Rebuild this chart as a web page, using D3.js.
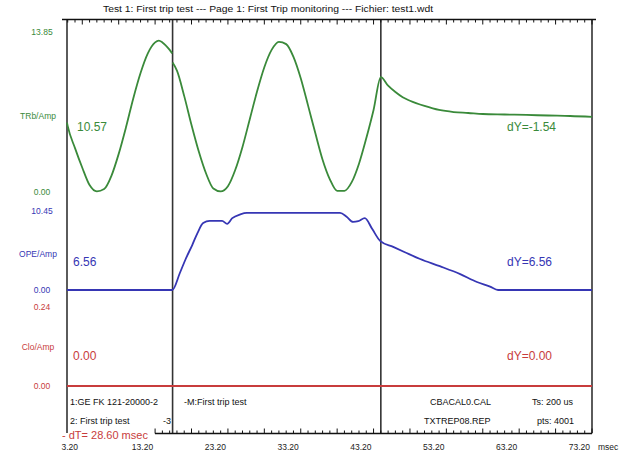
<!DOCTYPE html>
<html><head><meta charset="utf-8">
<script src="https://cdn.jsdelivr.net/npm/d3@7"></script>
<style>body{margin:0;background:#fff}svg{display:block}text{font-family:"Liberation Sans",Arial,sans-serif}</style>
</head><body>
<svg id="c" width="634" height="453"></svg>
<script>
// ---- data ----
const timeDomain = [2.9, 75.0];
const tickLabels = [3.2, 13.2, 23.2, 33.2, 43.2, 53.2, 63.2, 73.2];
const cursorTimes = [17.4, 46.0];
const channelNames = ["TRb/Amp", "OPE/Amp", "Clo/Amp"];
const channelMax = [13.85, 10.45, 0.24];
const cursorValues = ["10.57", "6.56", "0.00"];
const deltaValues = ["dY=-1.54", "dY=6.56", "dY=0.00"];
// TRb channel (null = jump at cursor 1)
const trbTimes = [2.9,3,4,5,6,7,8,9,10,11,12,13,14,15,15.5,16,17,17.35,null,
  17.4,18,19,20,21,22,23,24,25,26,27,28,29,30,31,32,33,34,35,36,37,38,39,40,41,42,43,44,45,46,
  47,48,49,50,52,54,56,58,60,63,66,69,72,75];
const trbValues = [6.0,5.7,3.8,2.1,0.6,0.05,0.25,1.4,3.3,5.6,8.1,10.3,12.0,12.95,13.1,12.95,12.3,12.0,null,
  11.2,10.5,8.3,5.8,3.5,1.6,0.3,0.05,0.5,1.9,3.9,6.3,8.7,10.8,12.3,13.0,12.8,11.7,9.85,7.5,5.1,2.8,1.1,0.1,0.1,0.85,2.45,4.65,7.1,9.95,
  9.2,8.65,8.2,7.9,7.45,7.1,6.92,6.84,6.75,6.71,6.67,6.62,6.58,6.5];
// OPE channel
const opeTimes = [2.9,17.35,18.4,19.2,20.1,20.8,21.6,22.5,24.2,24.9,25.6,26.7,27.6,40.4,41.3,42.2,42.9,43.8,44.8,45.9,47.7,49.3,51.4,54.1,56.9,59.2,61.0,62.1,75];
const opeValues = [0,0,2.25,4.1,5.95,7.5,8.85,9.15,9.15,8.75,9.5,10.0,10.19,10.19,9.7,9.0,9.1,9.5,8.1,6.5,5.7,5.0,4.1,3.15,2.1,1.06,0.45,0,0];
// Clo channel
const cloTimes = [2.9, 75];
const cloValues = [0, 0];
const infoRow1 = ["1:GE FK 121-20000-2", "-M:First trip test", "CBACAL0.CAL", "Ts: 200 us"];
const infoRow2 = ["2: First trip test", "-3", "TXTREP08.REP", "pts: 4001"];
const titleText = "Test 1: First trip test --- Page 1: First Trip monitoring --- Fichier: test1.wdt";
const deltaT = "dT= 28.60 msec";

// ---- layout ----
const svg = d3.select("#c");
const left = 67, right = 592;
const x = d3.scaleLinear().domain(timeDomain).range([left, right]);
const colors = ["#3a8a3a", "#3636b4", "#c83c3c"];
const panels = [[192, 32], [290, 211], [386, 307]];
const ys = panels.map((r, i) => d3.scaleLinear().domain([0, channelMax[i]]).range(r));
const series = [[trbTimes, trbValues], [opeTimes, opeValues], [cloTimes, cloValues]];
const nameY = [116, 254, 347];
const valueY = [127, 262, 356];

// title
svg.append("text").attr("x", 268).attr("y", 12).attr("text-anchor", "middle")
  .attr("font-size", 8.5).attr("fill", "#111").attr("textLength", 330).attr("lengthAdjust", "spacingAndGlyphs").text(titleText);

// tick labels
const lab = svg.append("g").attr("transform", "translate(0,441)")
  .call(d3.axisBottom(x).tickValues(tickLabels).tickSize(0).tickFormat(d3.format(".2f")));
lab.select(".domain").remove();
lab.selectAll("text").attr("font-size", 8.5).attr("fill", "#222").attr("dy", "0.71em")
  .attr("font-family", "Liberation Sans, Arial, sans-serif");
svg.append("text").attr("x", 598).attr("y", 450).attr("font-size", 8.5).attr("fill", "#222").text("msec");

// vertical frame + cursors
[left, right].forEach(px => svg.append("line").attr("x1", px).attr("x2", px).attr("y1", 20).attr("y2", 433)
  .attr("stroke", "#333").attr("stroke-width", 1.6));
cursorTimes.forEach(t => svg.append("line").attr("x1", x(t)).attr("x2", x(t)).attr("y1", 20).attr("y2", 433)
  .attr("stroke", "#333").attr("stroke-width", 1.6));

// channels
series.forEach(([ts, vs], i) => {
  const pts = ts.map((t, k) => [t, vs[k]]);
  const line = d3.line().defined(d => d[0] !== null).x(d => x(d[0])).y(d => ys[i](d[1])).curve(d3.curveMonotoneX);
  svg.append("path").datum(pts).attr("d", line).attr("fill", "none").attr("stroke", colors[i]).attr("stroke-width", 1.8);
  const g = svg.append("g").attr("fill", colors[i]);
  g.append("text").attr("x", 42).attr("y", ys[i](channelMax[i]) + 3).attr("text-anchor", "middle").attr("font-size", 8.5).text(channelMax[i].toFixed(2));
  g.append("text").attr("x", 42).attr("y", ys[i](0) + 3).attr("text-anchor", "middle").attr("font-size", 8.5).text("0.00");
  g.append("text").attr("x", 38).attr("y", nameY[i] + 3).attr("text-anchor", "middle").attr("font-size", 8.5).text(channelNames[i]);
  g.append("text").attr("x", i === 0 ? 77 : 73).attr("y", valueY[i] + 4).attr("font-size", 12).text(cursorValues[i]);
  g.append("text").attr("x", 507).attr("y", valueY[i] + 4).attr("font-size", 12).text(deltaValues[i]);
});

// info rows
const infoX = [70, 184, 430, 532];
infoRow1.forEach((s, i) => svg.append("text").attr("x", infoX[i]).attr("y", 405).attr("font-size", 9).attr("fill", "#111").text(s));
const infoX2 = [70, 163, 424, 537];
infoRow2.forEach((s, i) => svg.append("text").attr("x", infoX2[i]).attr("y", 424).attr("font-size", 9).attr("fill", "#111").text(s));

// dT
svg.append("text").attr("x", 62).attr("y", 439).attr("font-size", 11).attr("fill", colors[2]).text("- " + deltaT);

// rulers (drawn last, on top)
svg.append("line").attr("x1", 62).attr("x2", 596).attr("y1", 19.5).attr("y2", 19.5).attr("stroke", "#111").attr("stroke-width", 1.5);
svg.append("line").attr("x1", 155).attr("x2", right).attr("y1", 433.5).attr("y2", 433.5).attr("stroke", "#111").attr("stroke-width", 1.5);
svg.selectAll("line.ttk").data(d3.range(3, 76, 1)).join("line").attr("class", "ttk")
  .attr("x1", d => x(d)).attr("x2", d => x(d)).attr("y1", 19.5).attr("y2", d => (d % 5 === 0 ? 24.5 : 22.5))
  .attr("stroke", "#111").attr("stroke-width", 1);
svg.selectAll("line.btk").data(d3.range(15, 76, 1)).join("line").attr("class", "btk")
  .attr("x1", d => x(d)).attr("x2", d => x(d)).attr("y1", 433.5).attr("y2", d => (d % 5 === 0 ? 428.5 : 430.5))
  .attr("stroke", "#111").attr("stroke-width", 1);
</script>
</body></html>
